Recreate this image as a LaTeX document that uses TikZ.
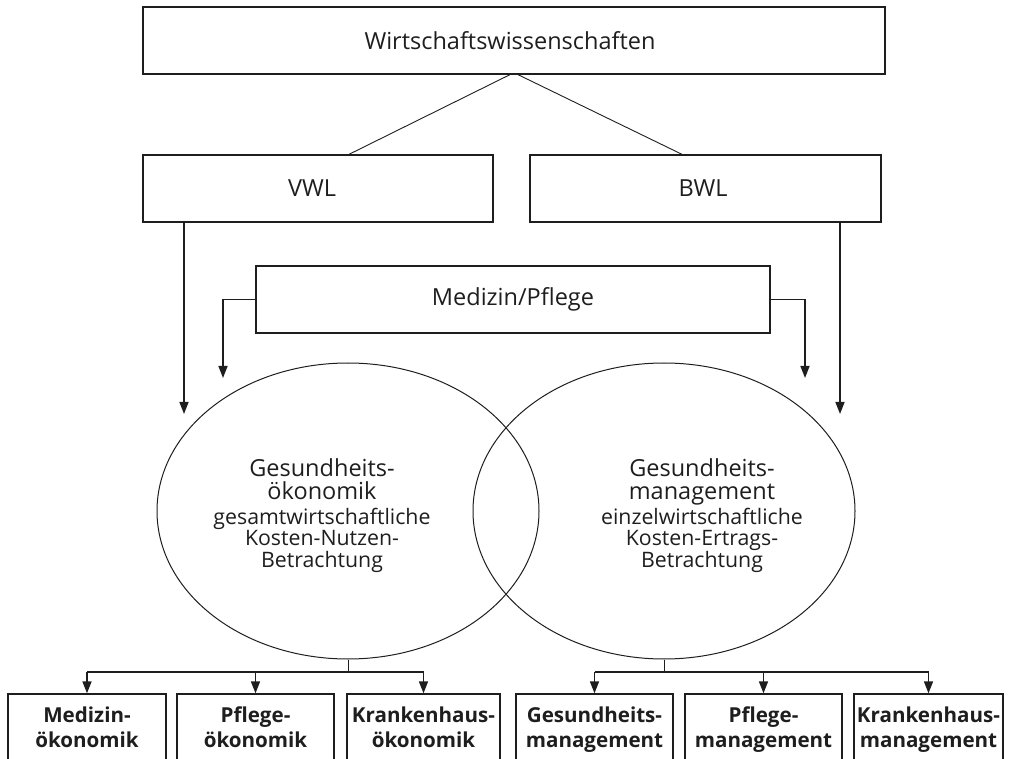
\documentclass[tikz,border=0pt]{standalone}
\usepackage{fontspec}
\setmainfont{Open Sans}
\usetikzlibrary{arrows.meta,shapes.geometric}
\definecolor{ink}{HTML}{1E1E1E}
\tikzset{
  box/.style={draw=ink, line width=1.3pt, rectangle, inner sep=0pt},
  thinline/.style={draw=ink, line width=0.9pt},
  hline/.style={draw=ink, line width=1.3pt},
  arr/.style={draw=ink, line width=1.6pt, -{Triangle[length=12pt,width=9pt]}},
  lab/.style={text=ink, font=\fontsize{23.5}{27}\selectfont, inner sep=0pt},
  big/.style={text=ink, font=\fontsize{23.5}{27}\selectfont, inner sep=0pt, anchor=base},
  small/.style={text=ink, font=\fontsize{21.3}{25}\selectfont, inner sep=0pt, anchor=base},
  btext/.style={text=ink, font=\fontsize{20.6}{24}\selectfont\bfseries, inner sep=0pt, anchor=base},
  ell/.style={draw=ink, line width=1pt, ellipse, inner sep=0pt, minimum width=382pt, minimum height=296pt},
}
\begin{document}
\begin{tikzpicture}[x=1pt,y=-1pt]
\useasboundingbox (0,0) rectangle (1010,759);
% top boxes
\node[box, minimum width=742pt, minimum height=67pt] (top) at (514,40.5) {};
\node[lab] (toplab) at (510,40.5) {Wirtschaftswissenschaften};
\node[box, minimum width=350pt, minimum height=67pt] (vwl) at (318,188.5) {};
\node[lab] (vwllab) at (312,188.5) {VWL};
\node[box, minimum width=351pt, minimum height=67pt] (bwl) at (705.5,188.5) {};
\node[lab] (bwllab) at (703,188.5) {BWL};
\node[box, minimum width=514pt, minimum height=67pt] (med) at (513,299.5) {};
\node[lab] (medlab) at (513,299.5) {Medizin/Pflege};
% lines from top
\draw[thinline] ([xshift=-4pt]top.south) -- ([xshift=31pt]vwl.north);
\draw[thinline] ([xshift=4pt]top.south) -- ([xshift=-23.5pt]bwl.north);
% ellipses
\node[ell] (eL) at (348,511) {};
\node[ell] (eR) at (664,511) {};
% arrows into ellipses
\coordinate (tV) at (184,414);
\coordinate (tB) at (840,414);
\coordinate (tML) at (223,378);
\coordinate (tMR) at (805,378);
\draw[arr] (vwl.south -| tV) -- (tV);
\draw[arr] (bwl.south -| tB) -- (tB);
\draw[arr] (med.west) -| (tML);
\draw[arr] (med.east) -| (tMR);
% ellipse texts
\node[big] (l1) at (322,476) {Gesundheits-};
\node[big] (l2) at (322,499) {ökonomik};
\node[small] (l3) at (322,524) {gesamtwirtschaftliche};
\node[small] (l4) at (322,545) {Kosten-Nutzen-};
\node[small] (l5) at (322,567) {Betrachtung};
\node[big] (r1) at (702,476) {Gesundheits-};
\node[big] (r2) at (702,499) {management};
\node[small] (r3) at (702,524) {einzelwirtschaftliche};
\node[small] (r4) at (702,545) {Kosten-Ertrags-};
\node[small] (r5) at (702,567) {Betrachtung};
% bottom boxes
\node[box, minimum width=158pt, minimum height=90pt] (b1) at (87,739) {};
\node[box, minimum width=157pt, minimum height=90pt] (b2) at (255.5,739) {};
\node[box, minimum width=153pt, minimum height=90pt] (b3) at (423.5,739) {};
\node[box, minimum width=157pt, minimum height=90pt] (b4) at (594.5,739) {};
\node[box, minimum width=157pt, minimum height=90pt] (b5) at (763.5,739) {};
\node[box, minimum width=149pt, minimum height=90pt] (b6) at (928.5,739) {};
\node[btext] (b1a) at (87,722) {Medizin-};
\node[btext] (b1b) at (87,747) {ökonomik};
\node[btext] (b2a) at (255.5,722) {Pflege-};
\node[btext] (b2b) at (255.5,747) {ökonomik};
\node[btext] (b3a) at (423.5,722) {Krankenhaus-};
\node[btext] (b3b) at (423.5,747) {ökonomik};
\node[btext] (b4a) at (594.5,722) {Gesundheits-};
\node[btext] (b4b) at (594.5,747) {management};
\node[btext] (b5a) at (763.5,722) {Pflege-};
\node[btext] (b5b) at (763.5,747) {management};
\node[btext] (b6a) at (928.5,722) {Krankenhaus-};
\node[btext] (b6b) at (928.5,747) {management};
% bottom connectors
\coordinate (jL) at (348,672);
\coordinate (jR) at (664,672);
\draw[thinline] (eL.south) -- (jL);
\draw[thinline] (eR.south) -- (jR);
\draw[hline] (b1.north |- jL) -- (b3.north |- jL);
\draw[hline] (b4.north |- jR) -- (b6.north |- jR);
\foreach \b/\j in {b1/jL,b2/jL,b3/jL,b4/jR,b5/jR,b6/jR}
  \draw[arr] (\b.north |- \j) -- (\b.north);
\end{tikzpicture}
\end{document}
